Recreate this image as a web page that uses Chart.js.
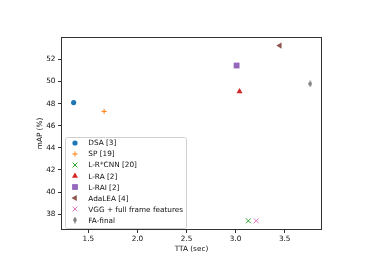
<!DOCTYPE html>
<html>
<head>
<meta charset="utf-8">
<script src="https://cdn.jsdelivr.net/npm/chart.js@4/dist/chart.umd.min.js"></script>
<style>
  html, body { margin: 0; padding: 0; background: #fff; }
  #wrap { width: 374px; height: 265px; }
</style>
</head>
<body>
<div id="wrap"><canvas id="grafica"></canvas></div>
<script>
// métodos y sus valores (TTA en segundos, mAP en %)
const metodos = ["DSA [3]", "SP [19]", "L-R*CNN [20]", "L-RA [2]", "L-RAI [2]", "AdaLEA [4]", "VGG + full frame features", "FA-final"];
const tta = [1.35, 1.66, 3.13, 3.04, 3.01, 3.45, 3.21, 3.76];
const mAP = [48.1, 47.3, 37.4, 49.1, 51.45, 53.25, 37.4, 49.8];
const colores = ["#1f77b4", "#ff7f0e", "#2ca02c", "#d62728", "#9467bd", "#8c564b", "#e377c2", "#7f7f7f"];
const xTicks = [1.5, 2.0, 2.5, 3.0, 3.5];
const yTicks = [38, 40, 42, 44, 46, 48, 50, 52];

const FUENTE = { family: "DejaVu Sans", size: 7.3 };

// ✅ diamante delgado (marcador 'd' de matplotlib)
function diamanteDelgado(color) {
    const c = document.createElement("canvas");
    c.width = 4; c.height = 7;
    const g = c.getContext("2d");
    g.fillStyle = color;
    g.beginPath();
    g.moveTo(2, 0); g.lineTo(4, 3.5); g.lineTo(2, 7); g.lineTo(0, 3.5);
    g.closePath();
    g.fill();
    return c;
}

const estilos = [
    { pointStyle: "circle", radius: 2.6, rotation: 0, borderWidth: 0 },
    { pointStyle: "cross", radius: 2.6, rotation: 0, borderWidth: 1 },
    { pointStyle: "crossRot", radius: 3.4, rotation: 0, borderWidth: 1 },
    { pointStyle: "triangle", radius: 3.5, rotation: 0, borderWidth: 0 },
    { pointStyle: "rect", radius: 4.1, rotation: 0, borderWidth: 0 },
    { pointStyle: "triangle", radius: 3.5, rotation: -90, borderWidth: 0 },
    { pointStyle: "crossRot", radius: 3.4, rotation: 0, borderWidth: 1 },
    { pointStyle: diamanteDelgado(colores[7]), radius: 3, rotation: 0, borderWidth: 0 }
];

const datasets = metodos.map((m, i) => ({
    label: m,
    data: [{ x: tta[i], y: mAP[i] }],
    backgroundColor: colores[i],
    borderColor: colores[i],
    pointStyle: estilos[i].pointStyle,
    pointRadius: estilos[i].radius,
    pointRotation: estilos[i].rotation,
    pointBorderWidth: estilos[i].borderWidth
}));

// ✅ marco completo de los ejes
const marco = {
    id: "marco",
    beforeDatasetsDraw(chart) {
        const { ctx, chartArea: a } = chart;
        ctx.save();
        ctx.strokeStyle = "#333";
        ctx.lineWidth = 1;
        ctx.strokeRect(Math.round(a.left) + 0.5, Math.round(a.top) + 0.5,
            Math.round(a.right - a.left) - 1, Math.round(a.bottom - a.top) - 1);
        ctx.restore();
    }
};

// ✅ leyenda abajo a la izquierda dentro del área
const leyenda = {
    id: "leyenda",
    afterDatasetsDraw(chart) {
        const { ctx, chartArea: a } = chart;
        const x0 = a.left + 4, y0 = a.top + 100;
        const w = 121, h = 91, paso = 11.05;
        ctx.save();
        ctx.fillStyle = "rgba(255,255,255,0.85)";
        ctx.strokeStyle = "#d0d0d0";
        ctx.lineWidth = 1;
        ctx.beginPath();
        ctx.roundRect(x0 + 0.5, y0 + 0.5, w, h, 2);
        ctx.fill();
        ctx.stroke();
        ctx.font = `${FUENTE.size}px ${FUENTE.family}`;
        ctx.textBaseline = "middle";
        metodos.forEach((m, i) => {
            const y = y0 + 6 + i * paso;
            ctx.fillStyle = colores[i];
            ctx.strokeStyle = colores[i];
            ctx.lineWidth = estilos[i].borderWidth || 1;
            Chart.helpers.drawPoint(ctx, {
                pointStyle: estilos[i].pointStyle,
                rotation: estilos[i].rotation,
                radius: estilos[i].radius,
                borderWidth: estilos[i].borderWidth
            }, x0 + 10, Math.round(y));
            ctx.fillStyle = "#111";
            ctx.fillText(m, x0 + 23.3, y + 0.5);
        });
        ctx.restore();
    }
};

Chart.defaults.font.family = FUENTE.family;
Chart.defaults.font.size = FUENTE.size;
Chart.defaults.color = "#111";

new Chart(document.getElementById("grafica"), {
    type: "scatter",
    data: { datasets: datasets },
    options: {
        responsive: true,
        maintainAspectRatio: false,
        animation: false,
        events: [],
        layout: { padding: { top: 37, right: 52, left: 0, bottom: 0 } },
        plugins: { legend: { display: false }, tooltip: { enabled: false } },
        scales: {
            x: {
                type: "linear",
                min: 1.221,
                max: 3.88,
                afterFit: (s) => { s.height = 35; },
                afterBuildTicks: (s) => { s.ticks = xTicks.map(v => ({ value: v })); },
                ticks: { padding: 2, callback: (v) => v.toFixed(1) },
                grid: { drawOnChartArea: false, drawTicks: true, tickLength: 3, color: "#333" },
                border: { display: false },
                title: { display: true, text: "TTA (sec)", padding: { top: 0, bottom: 11.5 } }
            },
            y: {
                type: "linear",
                min: 36.57,
                max: 54.03,
                afterFit: (s) => { s.width = 61; },
                afterBuildTicks: (s) => { s.ticks = yTicks.map(v => ({ value: v })); },
                ticks: { padding: 2.5, callback: (v) => String(v) },
                grid: { drawOnChartArea: false, drawTicks: true, tickLength: 3, color: "#333" },
                border: { display: false },
                title: { display: true, text: "mAP (%)", padding: { top: 35.5, bottom: 0 } }
            }
        }
    },
    plugins: [marco, leyenda]
});
</script>
</body>
</html>
